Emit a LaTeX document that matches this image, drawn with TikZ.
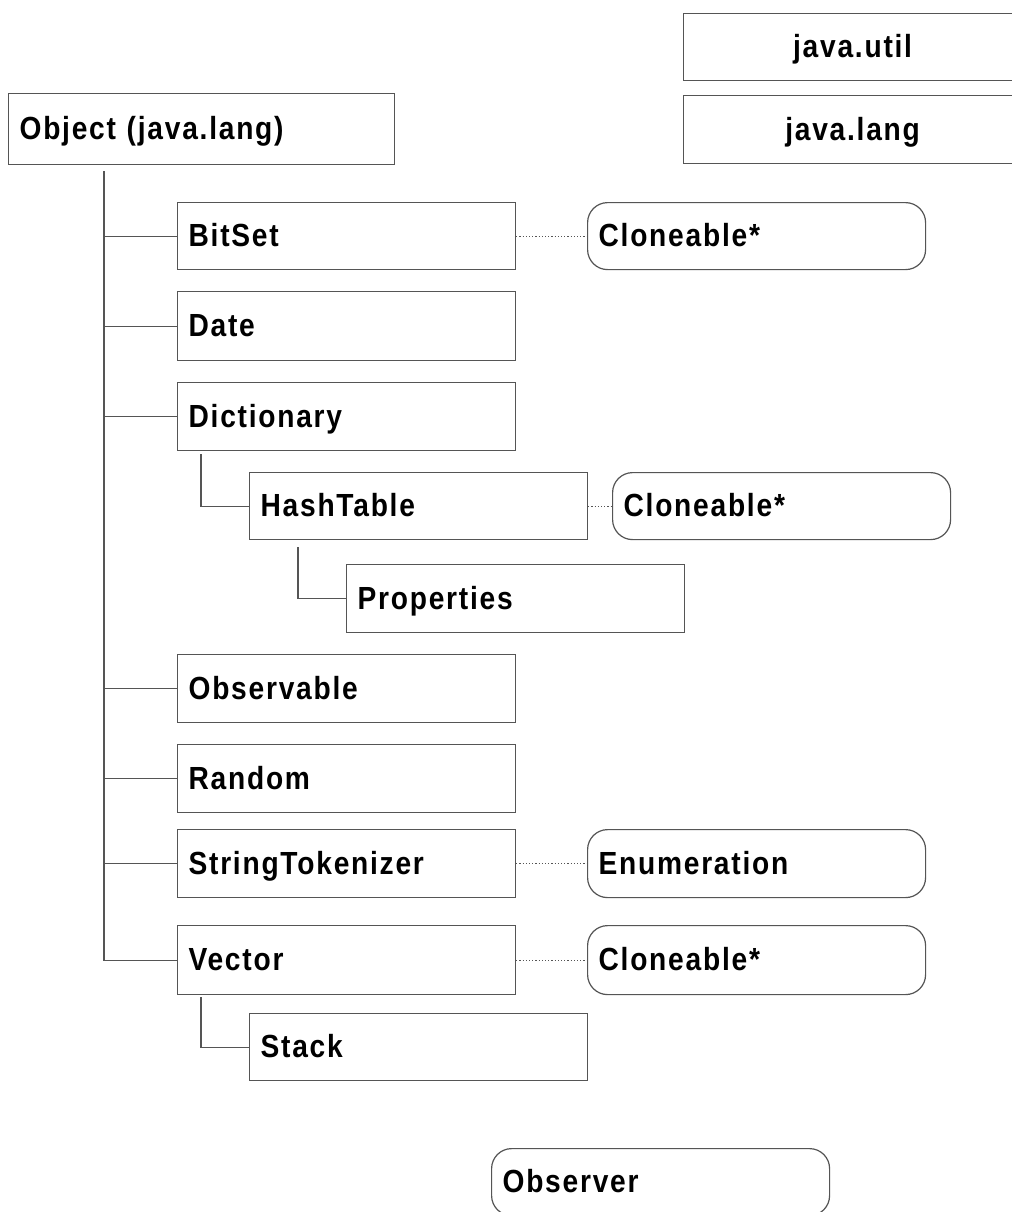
\documentclass[tikz,border=0pt]{standalone}
\usepackage{fontspec}
\setmainfont{Liberation Sans}
\newfontfamily\boxfont[FakeStretch=0.88,LetterSpace=5.5,BoldFont={Liberation Sans Bold}]{Liberation Sans}
\definecolor{linec}{HTML}{555555}
\begin{document}
\begin{tikzpicture}[x=0.5pt,y=-0.5pt,
  cls/.style={draw=linec, line width=0.6pt, anchor=north west, inner xsep=5.5pt, inner ysep=0pt,
    align=left, text width=158pt, minimum height=33.5pt, text height=11.5pt, text depth=1pt,
    font=\boxfont\bfseries\fontsize{16}{19}\selectfont},
  ifc/.style={cls, rounded corners=10pt},
  pkg/.style={cls, align=center},
  tree/.style={draw=linec, line width=0.6pt},
  impl/.style={draw=linec, line width=0.6pt, dash pattern=on 0.6pt off 1pt}]
\clip (0,0) rectangle (1012,1212);
\fill[white] (0,0) rectangle (1012,1212);
% packages legend
\node[pkg] (util) at (683,13) {java.util};
\node[pkg, minimum height=34pt] (lang) at (683,95) {java.lang};
% root
\node[cls, text width=182pt, minimum height=35.5pt] (object) at (8,93) {Object (java.lang)};
% classes
\node[cls] (bitset) at (177,202) {BitSet};
\node[cls, minimum height=34.5pt] (date) at (177,291) {Date};
\node[cls, minimum height=34pt] (dict) at (177,382) {Dictionary};
\node[cls] (hash) at (249,472) {HashTable};
\node[cls, minimum height=34pt] (props) at (346,564) {Properties};
\node[cls, minimum height=34pt] (observable) at (177,654) {Observable};
\node[cls, minimum height=34pt] (random) at (177,744) {Random};
\node[cls, minimum height=34pt] (tok) at (177,829) {StringTokenizer};
\node[cls, minimum height=34.5pt] (vector) at (177,925) {Vector};
\node[cls] (stack) at (249,1013) {Stack};
% interfaces
\node[ifc] (clone1) at (587,202) {Cloneable*};
\node[ifc] (clone2) at (612,472) {Cloneable*};
\node[ifc, minimum height=34pt] (enum) at (587,829) {Enumeration};
\node[ifc, minimum height=34.5pt] (clone3) at (587,925) {Cloneable*};
\node[ifc] (observer) at (491,1148) {Observer};
% tree connectors
\coordinate (trunk) at (104,171);
\draw[tree] (trunk) |- (bitset.west);
\draw[tree] (trunk) |- (date.west);
\draw[tree] (trunk) |- (dict.west);
\draw[tree] (trunk) |- (observable.west);
\draw[tree] (trunk) |- (random.west);
\draw[tree] (trunk) |- (tok.west);
\draw[tree] (trunk) |- (vector.west);
\coordinate (dictdown) at (201,454);
\draw[tree] (dictdown) |- (hash.west);
\coordinate (hashdown) at (298,547);
\draw[tree] (hashdown) |- (props.west);
\coordinate (vecdown) at (201,997);
\draw[tree] (vecdown) |- (stack.west);
% implements
\draw[impl] (bitset.east) -- (clone1.west);
\draw[impl] (hash.east) -- (clone2.west);
\draw[impl] (tok.east) -- (enum.west);
\draw[impl] (vector.east) -- (clone3.west);
\end{tikzpicture}
\end{document}
